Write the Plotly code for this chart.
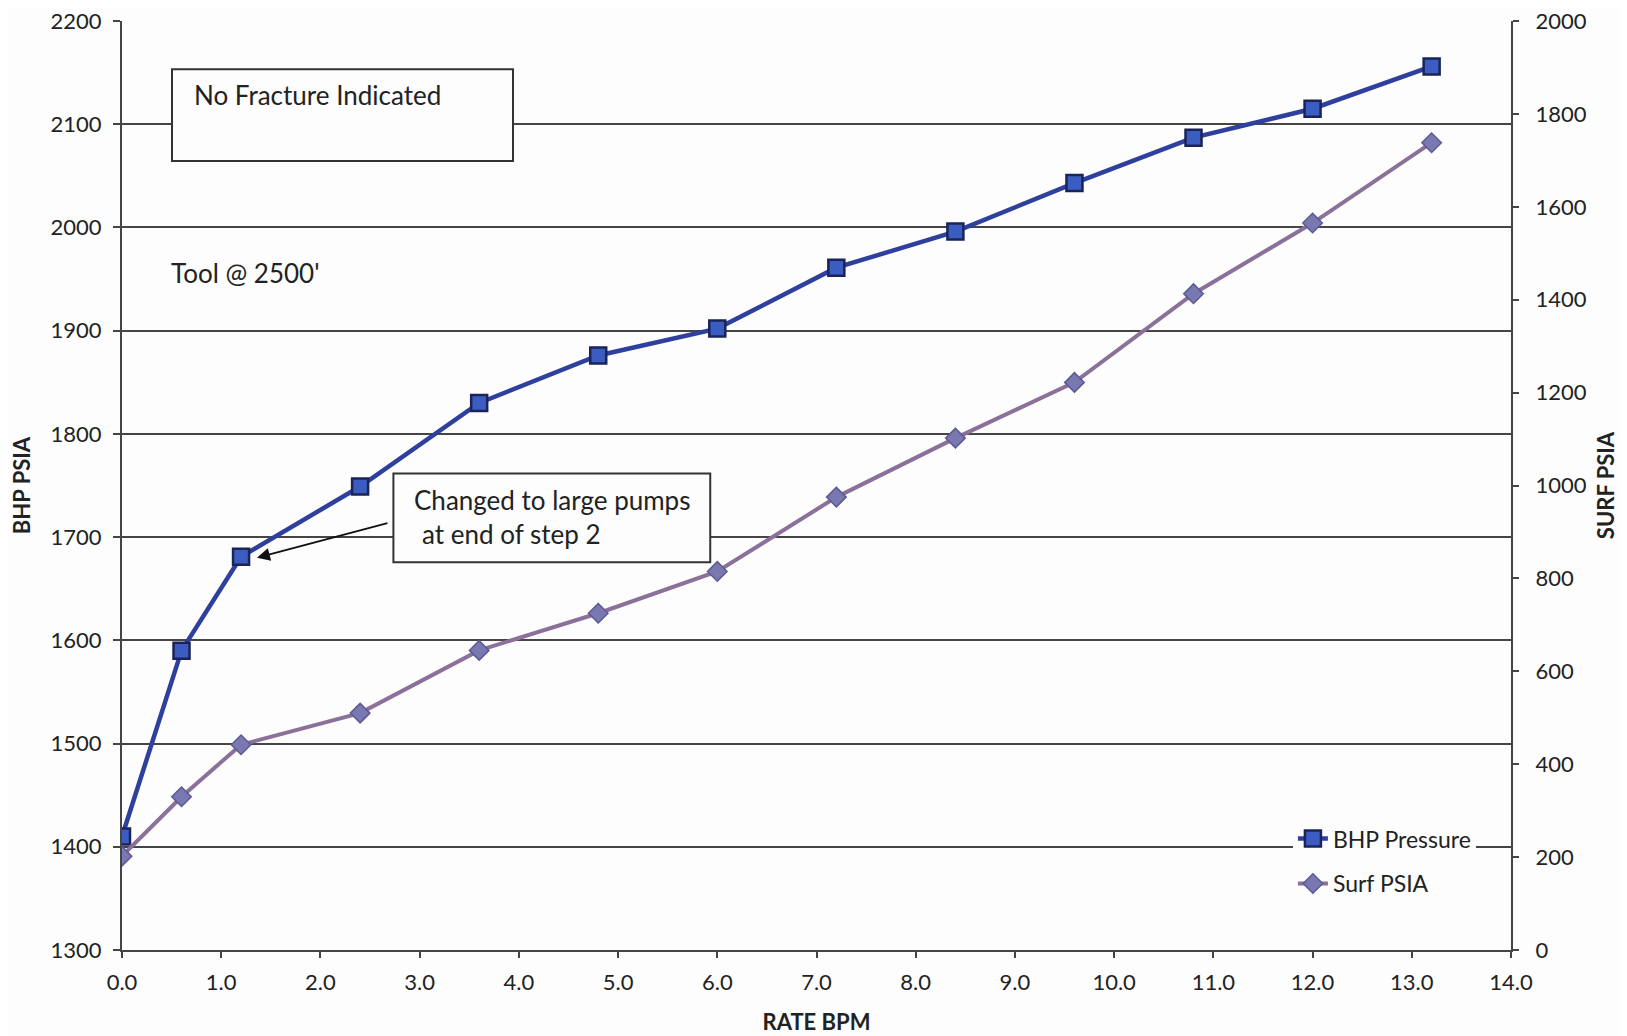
import plotly.graph_objects as go

rate_bpm = [0.0, 0.6, 1.2, 2.4, 3.6, 4.8, 6.0, 7.2, 8.4, 9.6, 10.8, 12.0, 13.2]
bhp_pressure = [1410, 1590, 1681, 1749, 1830, 1876, 1902, 1961, 1996, 2043, 2087, 2115, 2156]
surf_psia = [202, 330, 442, 510, 645, 725, 815, 975, 1102, 1222, 1413, 1565, 1738]

FONT = "Lato"
TXT = "#222222"
GRID = "#454545"
BG = "#fcfdfc"

fig = go.Figure()
fig.add_trace(go.Scatter(
    x=rate_bpm, y=bhp_pressure, name="BHP Pressure", mode="lines+markers",
    legendgroup="a",
    line=dict(color="#2f3f9e", width=4.5),
    marker=dict(symbol="square", size=16, color="#3b5cc0",
                line=dict(color="#1b2459", width=2.5)),
    yaxis="y"))
fig.add_trace(go.Scatter(
    x=rate_bpm, y=surf_psia, name="Surf PSIA", mode="lines+markers",
    legendgroup="b",
    line=dict(color="#8b7199", width=4),
    marker=dict(symbol="diamond", size=15, color="#7a78b0",
                line=dict(color="#5b5a92", width=1.5)),
    yaxis="y2"))

fig.update_layout(
    width=1627, height=1036,
    margin=dict(l=114, r=124, t=13, b=94),
    paper_bgcolor=BG, plot_bgcolor=BG,
    font=dict(family=FONT, size=22, color=TXT),
    showlegend=True,
    legend=dict(x=0.843, y=0.143, xanchor="left", yanchor="top",
                bgcolor=BG, font=dict(size=23, color=TXT),
                tracegroupgap=12),
    xaxis=dict(range=[0, 14], dtick=1, tickformat=".1f", showgrid=False,
               showline=True, linecolor=GRID, linewidth=2,
               ticks="outside", ticklen=6, tickcolor=GRID, tickwidth=2,
               zeroline=False, automargin=False, ticklabelstandoff=6,
               ticklabeloverflow="allow",
               title=dict(text="<b>RATE BPM</b>", font=dict(size=22), standoff=20)),
    yaxis=dict(range=[1300, 2200], dtick=100, showgrid=True, gridcolor=GRID,
               gridwidth=1.5, showline=True, linecolor=GRID, linewidth=2,
               ticks="outside", ticklen=7, tickcolor=GRID, tickwidth=2,
               zeroline=False, automargin=False, ticklabelstandoff=7,
               ticklabeloverflow="allow",
               title=dict(text="<b>BHP PSIA</b>", font=dict(size=22), standoff=15)),
    yaxis2=dict(range=[0, 2000], dtick=200, overlaying="y", side="right",
                showgrid=False, showline=True, linecolor=GRID, linewidth=2,
                ticks="outside", ticklen=6, tickcolor=GRID, tickwidth=2,
                zeroline=False, automargin=False, ticklabelstandoff=12,
                ticklabeloverflow="allow",
                title=dict(text="<b>SURF PSIA</b>", font=dict(size=22), standoff=13)),
)

# Text boxes
fig.add_shape(type="rect", xref="paper", yref="paper",
              x0=0.036, x1=0.2815, y0=0.8494, y1=0.948,
              line=dict(color="#333", width=2), fillcolor=BG, layer="above")
fig.add_annotation(xref="paper", yref="paper", x=0.0504, y=0.9204,
                   xanchor="left", yanchor="middle", showarrow=False,
                   text="No Fracture Indicated", font=dict(size=26, color=TXT))
fig.add_annotation(xref="paper", yref="paper", x=0.0338, y=0.7283,
                   xanchor="left", yanchor="middle", showarrow=False,
                   text="Tool @ 2500'", font=dict(size=26, color=TXT))
fig.add_shape(type="rect", xref="paper", yref="paper",
              x0=0.1954, x1=0.4235, y0=0.4174, y1=0.5128,
              line=dict(color="#333", width=2), fillcolor=BG, layer="above")
fig.add_annotation(xref="paper", yref="paper", x=0.209, y=0.4839,
                   xanchor="left", yanchor="middle", showarrow=False,
                   text="Changed to large pumps", font=dict(size=26, color=TXT))
fig.add_annotation(xref="paper", yref="paper", x=0.2145, y=0.4475,
                   xanchor="left", yanchor="middle", showarrow=False,
                   text="at end of step 2", font=dict(size=26, color=TXT))
fig.add_annotation(x=1.36, y=1680, xref="x", yref="y", text="",
                   showarrow=True, arrowhead=2, arrowsize=1.3, arrowwidth=2,
                   arrowcolor="#111", ax=132, ay=-35, axref="pixel", ayref="pixel")

fig.write_html("out.html")
